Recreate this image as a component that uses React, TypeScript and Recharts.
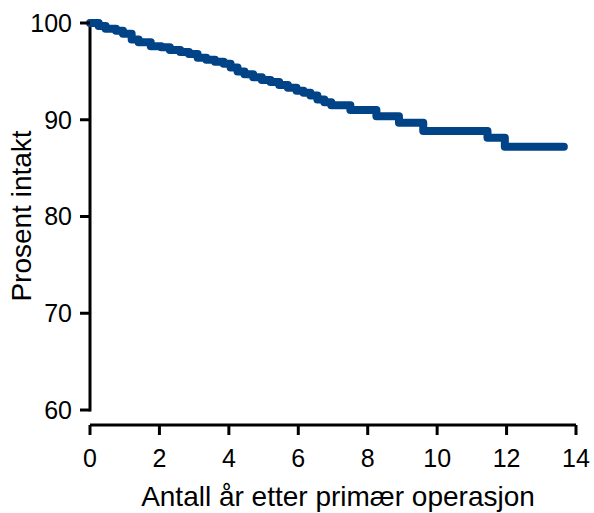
import { Label, Line, LineChart, ReferenceLine, XAxis, YAxis } from "recharts"

// Kaplan-Meier-like curve: years after primary operation vs. percent intact
const years = [
  0, 0.25, 0.45, 0.75, 0.95, 1.2, 1.4, 1.75, 2.05, 2.3, 2.6, 2.85, 3.1, 3.35, 3.6, 3.85, 4.05, 4.25,
  4.45, 4.7, 4.95, 5.2, 5.45, 5.7, 5.95, 6.15, 6.35, 6.55, 6.75, 6.95, 7.5, 8.25, 8.9, 9.6, 11.45,
  11.95, 13.65,
]
const intact = [
  100, 99.7, 99.4, 99.2, 98.9, 98.3, 98.0, 97.6, 97.5, 97.2, 97.0, 96.8, 96.4, 96.2, 96.0, 95.8, 95.4,
  95.0, 94.7, 94.4, 94.1, 93.9, 93.6, 93.3, 93.0, 92.8, 92.5, 92.1, 91.8, 91.5, 91.0, 90.35, 89.7,
  88.85, 88.15, 87.2, 87.2,
]
const xTicks = [0, 2, 4, 6, 8, 10, 12, 14]
const yTicks = [60, 70, 80, 90, 100]

const data = years.map((t, i) => ({ t, v: intact[i] }))

const font = "'Liberation Sans', Arial, sans-serif"
const blue = "#004387"

export default function App() {
  return (
    <div style={{ position: "absolute", left: 0, top: 0, background: "#fff" }}>
      <LineChart
        width={594}
        height={513}
        data={data}
        margin={{ top: 23, right: 18, bottom: 58, left: 0 }}
      >
        <XAxis
          dataKey="t"
          type="number"
          domain={[0, 14]}
          ticks={xTicks}
          interval={0}
          height={30}
          stroke="#000"
          strokeWidth={3}
          tickSize={10}
          tickMargin={14}
          tick={{ fill: "#000", fontSize: 25, fontFamily: font }}
        >
          <Label
            content={() => (
              <text x={338} y={506} textAnchor="middle" fontSize={28} fontFamily={font} fill="#000">
                Antall år etter primær operasjon
              </text>
            )}
          />
        </XAxis>
        <YAxis
          type="number"
          domain={[58.45, 100]}
          ticks={yTicks}
          interval={0}
          width={90}
          axisLine={false}
          tickLine={{ stroke: "#000", strokeWidth: 3 }}
          tickSize={10}
          tickMargin={8}
          tick={{ fill: "#000", fontSize: 25, fontFamily: font }}
        >
          <Label
            content={() => (
              <text
                x={21}
                y={216}
                transform="rotate(-90 21 216)"
                textAnchor="middle"
                dominantBaseline="central"
                fontSize={28}
                fontFamily={font}
                fill="#000"
              >
                Prosent intakt
              </text>
            )}
          />
        </YAxis>
        <ReferenceLine
          segment={[
            { x: 0, y: 60 },
            { x: 0, y: 100 },
          ]}
          stroke="#000"
          strokeWidth={3}
          strokeLinecap="square"
          ifOverflow="visible"
        />
        <Line
          type="stepAfter"
          dataKey="v"
          stroke={blue}
          strokeWidth={8}
          strokeLinecap="round"
          strokeLinejoin="round"
          dot={false}
          isAnimationActive={false}
        />
      </LineChart>
    </div>
  )
}
